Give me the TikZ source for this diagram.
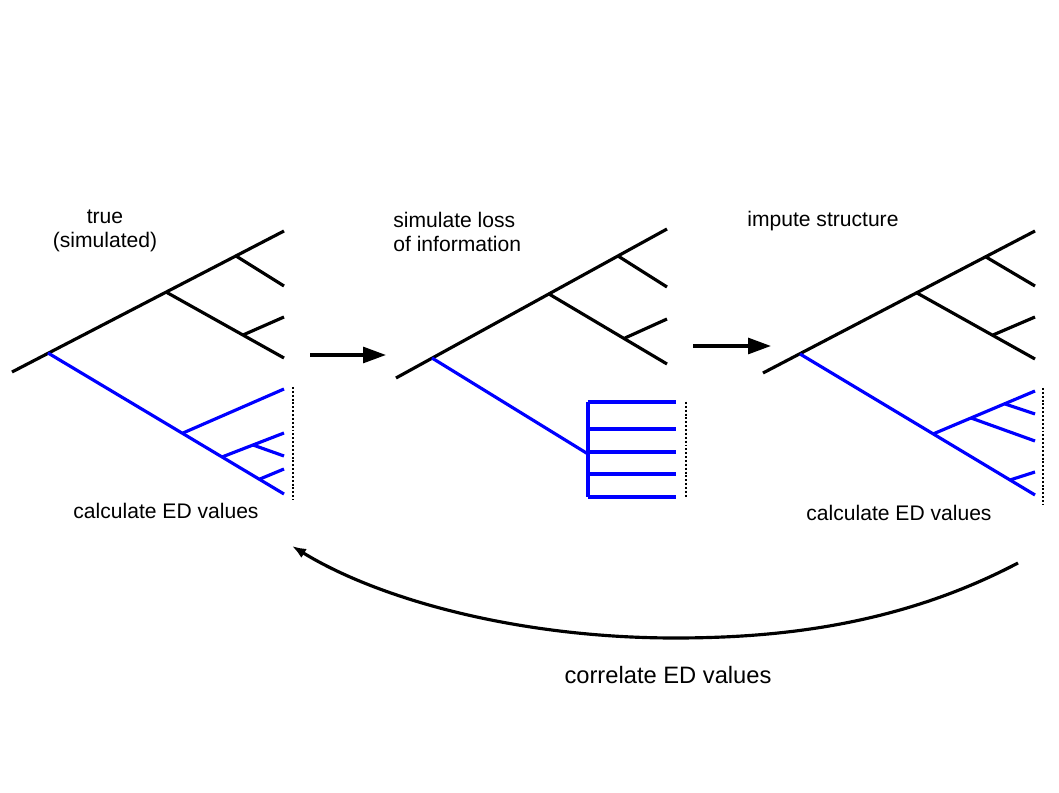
\documentclass[tikz,border=0pt]{standalone}
\usepackage{fontspec}
\setmainfont{Liberation Sans}
\usetikzlibrary{arrows.meta}

\begin{document}
\begin{tikzpicture}[
  x=0.02cm, y=-0.02cm,
  caption/.style={font=\fontsize{12pt}{13.5pt}\selectfont, inner sep=0pt},
  bigcaption/.style={font=\fontsize{13.5pt}{15pt}\selectfont, inner sep=0pt},
  edge/.style={line width=1.8pt},
  lost/.style={edge, draw=blue},
  tipline/.style={line width=0.8pt, dash pattern=on 1.1pt off 1.1pt},
  arrow/.style={-{Triangle[length=13pt, width=9pt]}, line width=1.8pt},
  backarrow/.style={-{Latex[length=8pt, width=6pt]}, line width=1.8pt}
]
  \useasboundingbox (0,0) rectangle (1059,793);

  % tree 1: true (simulated)
  \coordinate (t1root) at (12,372);
  \coordinate (t1top) at (284,231);
  \coordinate (t1b) at (48,353);
  \coordinate (t1c) at (166,292);
  \coordinate (t1d) at (236,256);
  \coordinate (t1e) at (243,335);
  \draw[edge] (t1root) -- (t1top);
  \draw[edge] (t1d) -- (284,286);
  \draw[edge] (t1c) -- (284,358);
  \draw[edge] (t1e) -- (284,317);
  \coordinate (t1f) at (183,433);
  \coordinate (t1g) at (222,457);
  \coordinate (t1h) at (253,445);
  \coordinate (t1i) at (260,479);
  \draw[lost] (t1b) -- (284,494);
  \draw[lost] (t1f) -- (284,389);
  \draw[lost] (t1g) -- (284,433);
  \draw[lost] (t1h) -- (284,456);
  \draw[lost] (t1i) -- (284,469);
  \draw[tipline] (293,387) -- (293,500);

  \node[caption, align=center] (true) at (105,231) {true\\(simulated)};
  \node[caption] (calc1) at (166,511) {calculate ED values};

  % tree 2: loss of information
  \coordinate (t2root) at (396,378);
  \coordinate (t2top) at (667,229);
  \coordinate (t2b) at (432,358);
  \coordinate (t2c) at (549,294);
  \coordinate (t2d) at (618,256);
  \coordinate (t2e) at (625,338);
  \draw[edge] (t2root) -- (t2top);
  \draw[edge] (t2d) -- (667,287);
  \draw[edge] (t2c) -- (667,364);
  \draw[edge] (t2e) -- (667,319);
  \coordinate (t2poly) at (588,454);
  \draw[lost] (t2b) -- (t2poly);
  \draw[lost] (588,402) -- (588,497);
  \foreach \y in {402,429,452,474,497}
    \draw[lost] (588,\y) -- (676,\y);
  \draw[tipline] (686,402) -- (686,497);

  \node[caption, align=left, anchor=west] (loss) at (393,232) {simulate loss\\of information};

  % tree 3: imputed
  \coordinate (t3root) at (763,373);
  \coordinate (t3top) at (1035,231);
  \coordinate (t3b) at (800,354);
  \coordinate (t3c) at (917,293);
  \coordinate (t3d) at (986,257);
  \coordinate (t3e) at (993,335);
  \draw[edge] (t3root) -- (t3top);
  \draw[edge] (t3d) -- (1035,286);
  \draw[edge] (t3c) -- (1035,359);
  \draw[edge] (t3e) -- (1035,317);
  \coordinate (t3f) at (933,434);
  \coordinate (t3g) at (971,418);
  \coordinate (t3h) at (1005,404);
  \coordinate (t3i) at (1010,480);
  \draw[lost] (t3b) -- (1035,495);
  \draw[lost] (t3f) -- (1035,391);
  \draw[lost] (t3g) -- (1035,441);
  \draw[lost] (t3h) -- (1035,414);
  \draw[lost] (t3i) -- (1035,472);
  \draw[tipline] (1043,388) -- (1043,504);

  \node[caption, anchor=west] (impute) at (747,221) {impute structure};
  \node[caption] (calc3) at (899,513) {calculate ED values};

  % steps
  \coordinate (s1out) at (310,355);
  \coordinate (s2in) at (386,355);
  \coordinate (s2out) at (693,346);
  \coordinate (s3in) at (771,346);
  \draw[arrow] (s1out) -- (s2in);
  \draw[arrow] (s2out) -- (s3in);

  \coordinate (s3back) at (1018,563);
  \coordinate (s1back) at (292,546);
  \draw[backarrow] (s3back) .. controls (900,625) and (780,638) .. (675,638)
    .. controls (520,638) and (380,600) .. (s1back);
  \node[bigcaption] (corr) at (668,675) {correlate ED values};
\end{tikzpicture}
\end{document}
